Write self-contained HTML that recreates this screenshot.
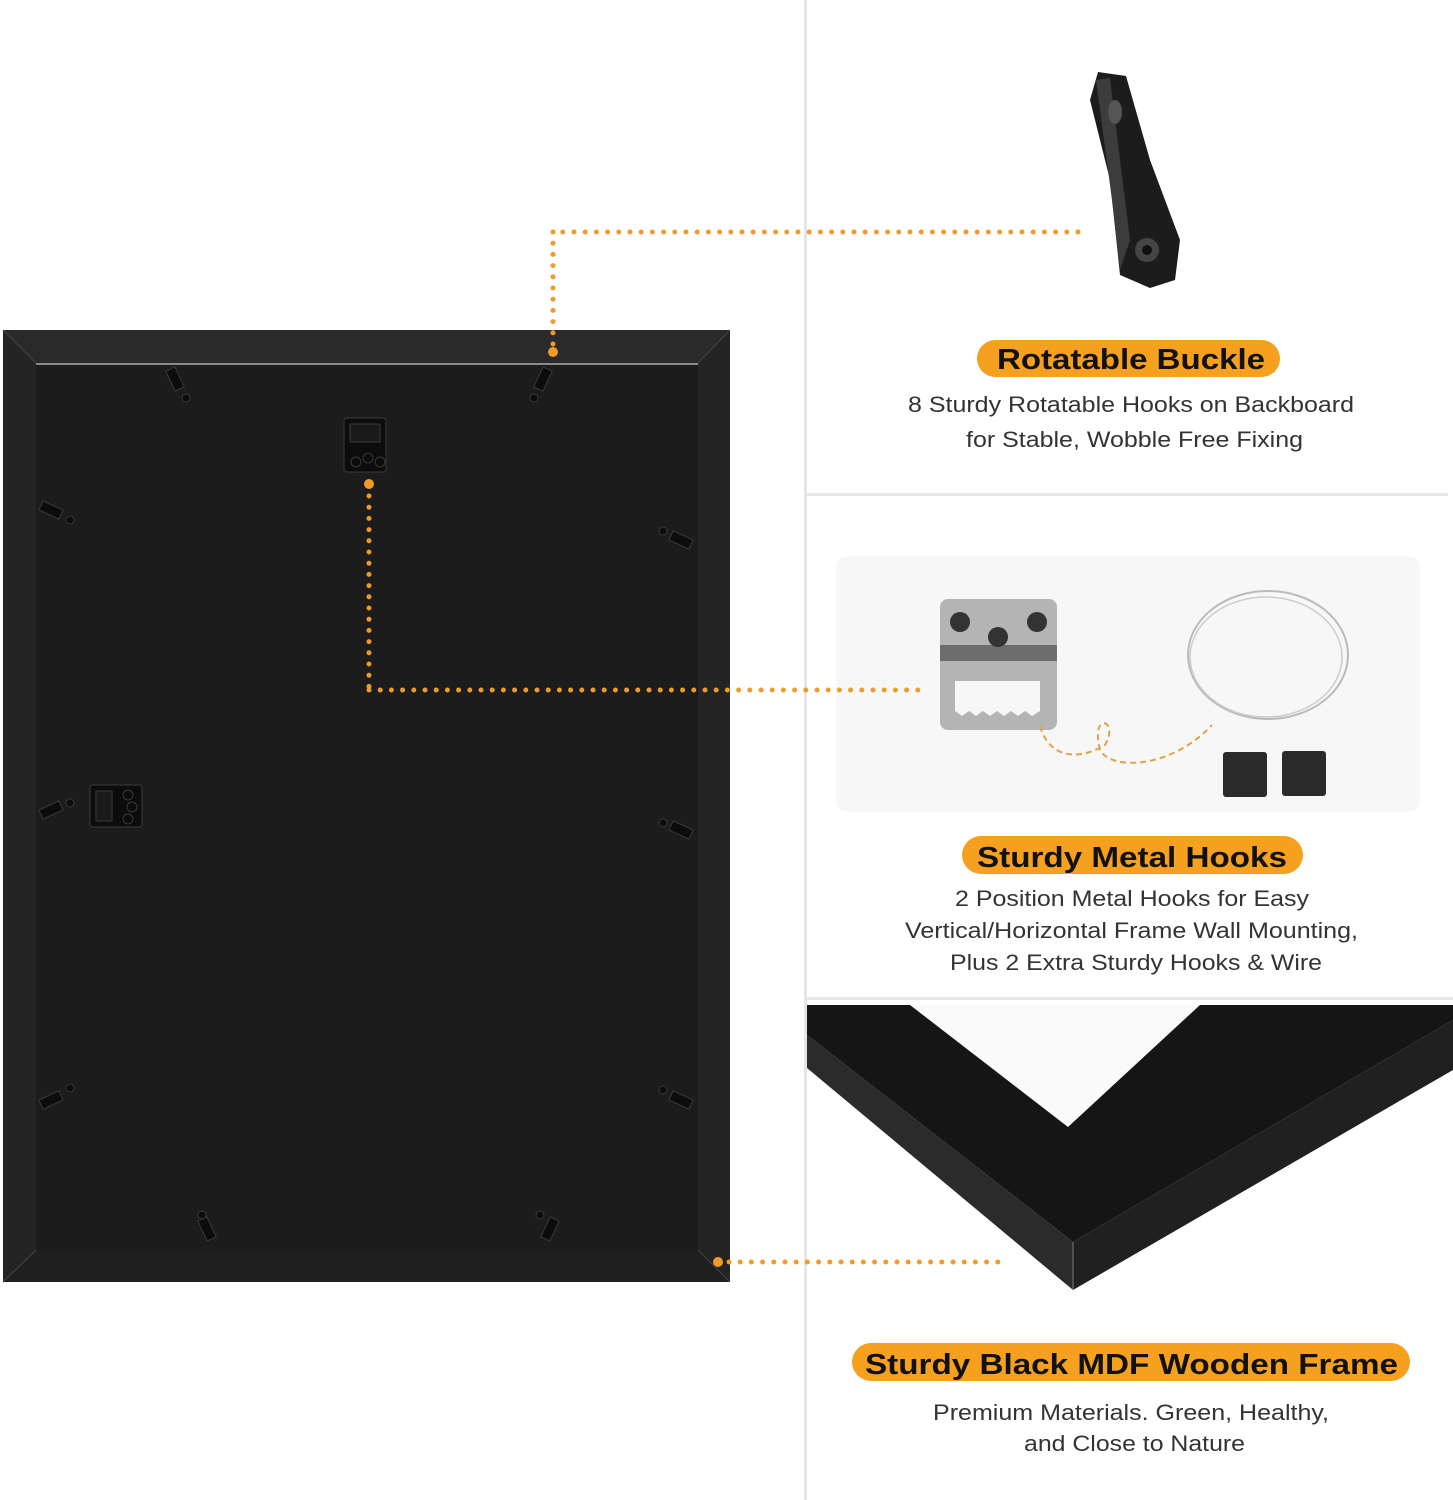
<!DOCTYPE html>
<html><head><style>
html,body{margin:0;padding:0;background:#fff;}
svg{display:block}
text{font-family:"Liberation Sans",sans-serif}
</style></head><body>
<svg width="1453" height="1500" viewBox="0 0 1453 1500" xmlns="http://www.w3.org/2000/svg">
<rect width="1453" height="1500" fill="#fff"/>
<rect x="804" y="0" width="3" height="1500" fill="#e6e6e6"/>
<rect x="806" y="493" width="642" height="3" fill="#e6e6e6"/>
<rect x="806" y="997" width="647" height="3" fill="#e6e6e6"/>

<rect x="3" y="330" width="727" height="952" fill="#242424"/>
<polygon points="3,330 730,330 698,363 36,363" fill="#2a2a2a"/>
<polygon points="3,1282 730,1282 698,1250 36,1250" fill="#1f1f1f"/>
<rect x="36" y="363" width="662" height="887" fill="#1c1c1c"/>
<rect x="36" y="363" width="662" height="2" fill="#8a8a8a"/>
<line x1="3" y1="330" x2="36" y2="363" stroke="#444" stroke-width="1"/>
<line x1="730" y1="330" x2="698" y2="363" stroke="#444" stroke-width="1"/>
<line x1="3" y1="1282" x2="36" y2="1250" stroke="#444" stroke-width="1"/>
<line x1="730" y1="1282" x2="698" y2="1250" stroke="#444" stroke-width="1"/>
<g fill="#0c0c0c" stroke="#3a3a3a" stroke-width="1">
<rect x="170" y="368" width="10" height="22" transform="rotate(-25 175 379)"/><circle cx="186" cy="398" r="4"/>
<rect x="538" y="368" width="10" height="22" transform="rotate(25 543 379)"/><circle cx="534" cy="398" r="4"/>
<rect x="40" y="505" width="22" height="10" transform="rotate(25 51 510)"/><circle cx="70" cy="520" r="4"/>
<rect x="670" y="535" width="22" height="10" transform="rotate(25 681 540)"/><circle cx="663" cy="531" r="4"/>
<rect x="40" y="805" width="22" height="10" transform="rotate(-25 51 810)"/><circle cx="70" cy="803" r="4"/>
<rect x="670" y="825" width="22" height="10" transform="rotate(25 681 830)"/><circle cx="663" cy="823" r="4"/>
<rect x="40" y="1095" width="22" height="10" transform="rotate(-25 51 1100)"/><circle cx="70" cy="1088" r="4"/>
<rect x="670" y="1095" width="22" height="10" transform="rotate(25 681 1100)"/><circle cx="663" cy="1090" r="4"/>
<rect x="202" y="1218" width="10" height="22" transform="rotate(-25 207 1229)"/><circle cx="202" cy="1215" r="4"/>
<rect x="545" y="1218" width="10" height="22" transform="rotate(25 550 1229)"/><circle cx="540" cy="1215" r="4"/>
<rect x="344" y="418" width="42" height="54" rx="3"/>
<rect x="350" y="424" width="30" height="18" fill="#1a1a1a"/>
<circle cx="356" cy="462" r="5"/><circle cx="368" cy="458" r="5"/><circle cx="380" cy="462" r="5"/>
<rect x="90" y="785" width="52" height="42" rx="3"/>
<rect x="96" y="791" width="16" height="30" fill="#1a1a1a"/>
<circle cx="128" cy="795" r="5"/><circle cx="132" cy="807" r="5"/><circle cx="128" cy="819" r="5"/>
</g>

<g>
<polygon points="1098,72 1126,76 1130,90 1150,160 1180,240 1175,280 1150,288 1120,275 1110,180 1090,100" fill="#1c1c1c"/>
<polygon points="1096,80 1110,78 1120,160 1130,240 1120,270 1112,200" fill="#3c3c3c"/>
<ellipse cx="1115" cy="112" rx="7" ry="12" fill="#555"/>
<circle cx="1147" cy="250" r="12" fill="#444"/><circle cx="1147" cy="250" r="5" fill="#111"/>
</g>
<rect x="977" y="340" width="303" height="37" rx="18.5" fill="#f5a01e"/>
<text x="997" y="369" textLength="268" lengthAdjust="spacingAndGlyphs" font-size="29" font-weight="bold" fill="#111">Rotatable Buckle</text>
<text x="908" y="412" textLength="446" lengthAdjust="spacingAndGlyphs" font-size="22" fill="#333">8 Sturdy Rotatable Hooks on Backboard</text>
<text x="966" y="447" textLength="337" lengthAdjust="spacingAndGlyphs" font-size="22" fill="#333">for Stable, Wobble Free Fixing</text>

<rect x="836" y="556" width="584" height="256" rx="12" fill="#f7f7f7"/>
<rect x="940" y="599" width="117" height="131" rx="8" fill="#b4b4b4"/>
<rect x="940" y="645" width="117" height="16" fill="#6d6d6d"/>
<circle cx="960" cy="622" r="10" fill="#333"/><circle cx="1037" cy="622" r="10" fill="#333"/><circle cx="998" cy="637" r="10" fill="#333"/>
<path d="M955,681 H1040 V711 L1032,716 1025,711 1018,716 1011,711 1004,716 997,711 990,716 983,711 976,716 969,711 962,716 955,711 Z" fill="#f7f7f7"/>
<path d="M1040,726 C1050,760 1080,760 1105,745 C1120,720 1090,710 1100,750 C1110,770 1170,770 1212,725" fill="none" stroke="#e0a24a" stroke-width="2" stroke-dasharray="6,4"/>
<ellipse cx="1268" cy="655" rx="80" ry="64" fill="none" stroke="#bbb" stroke-width="2"/>
<ellipse cx="1266" cy="657" rx="76" ry="60" fill="none" stroke="#ccc" stroke-width="1.5"/>
<rect x="1223" y="752" width="44" height="45" rx="3" fill="#2a2a2a"/>
<rect x="1282" y="751" width="44" height="45" rx="3" fill="#2a2a2a"/>
<rect x="962" y="836" width="341" height="38" rx="19" fill="#f5a01e"/>
<text x="977" y="867" textLength="310" lengthAdjust="spacingAndGlyphs" font-size="29" font-weight="bold" fill="#111">Sturdy Metal Hooks</text>
<text x="955" y="906" textLength="354" lengthAdjust="spacingAndGlyphs" font-size="22" fill="#333">2 Position Metal Hooks for Easy</text>
<text x="905" y="938" textLength="453" lengthAdjust="spacingAndGlyphs" font-size="22" fill="#333">Vertical/Horizontal Frame Wall Mounting,</text>
<text x="950" y="970" textLength="372" lengthAdjust="spacingAndGlyphs" font-size="22" fill="#333">Plus 2 Extra Sturdy Hooks &amp; Wire</text>

<polygon points="807,1005 1453,1005 1453,1020 1073,1242 807,1035" fill="#151515"/>
<polygon points="910,1005 1200,1005 1068,1127" fill="#fafafa"/>
<polygon points="807,1035 1073,1242 1073,1290 807,1068" fill="#2b2b2b"/>
<polygon points="1073,1242 1453,1020 1453,1070 1073,1290" fill="#202020"/>
<line x1="1073" y1="1242" x2="1073" y2="1290" stroke="#777" stroke-width="1"/>

<rect x="852" y="1343" width="558" height="38" rx="19" fill="#f5a01e"/>
<text x="865" y="1374" textLength="533" lengthAdjust="spacingAndGlyphs" font-size="29" font-weight="bold" fill="#111">Sturdy Black MDF Wooden Frame</text>
<text x="933" y="1420" textLength="396" lengthAdjust="spacingAndGlyphs" font-size="22" fill="#333">Premium Materials. Green, Healthy,</text>
<text x="1024" y="1451" textLength="221" lengthAdjust="spacingAndGlyphs" font-size="22" fill="#333">and Close to Nature</text>

<g stroke="#f19a28" stroke-width="5" stroke-linecap="round" stroke-dasharray="0 11.2" fill="none">
<line x1="1078" y1="232" x2="553" y2="232"/>
<line x1="553" y1="232" x2="553" y2="345"/>
<line x1="369" y1="496" x2="369" y2="690"/>
<line x1="369" y1="690" x2="926" y2="690"/>
<line x1="729" y1="1262" x2="1008" y2="1262"/>
</g>
<g fill="#f19a28">
<circle cx="553" cy="352" r="5"/>
<circle cx="369" cy="484" r="5"/>
<circle cx="718" cy="1262" r="5"/>
</g>
</svg>
</body></html>
